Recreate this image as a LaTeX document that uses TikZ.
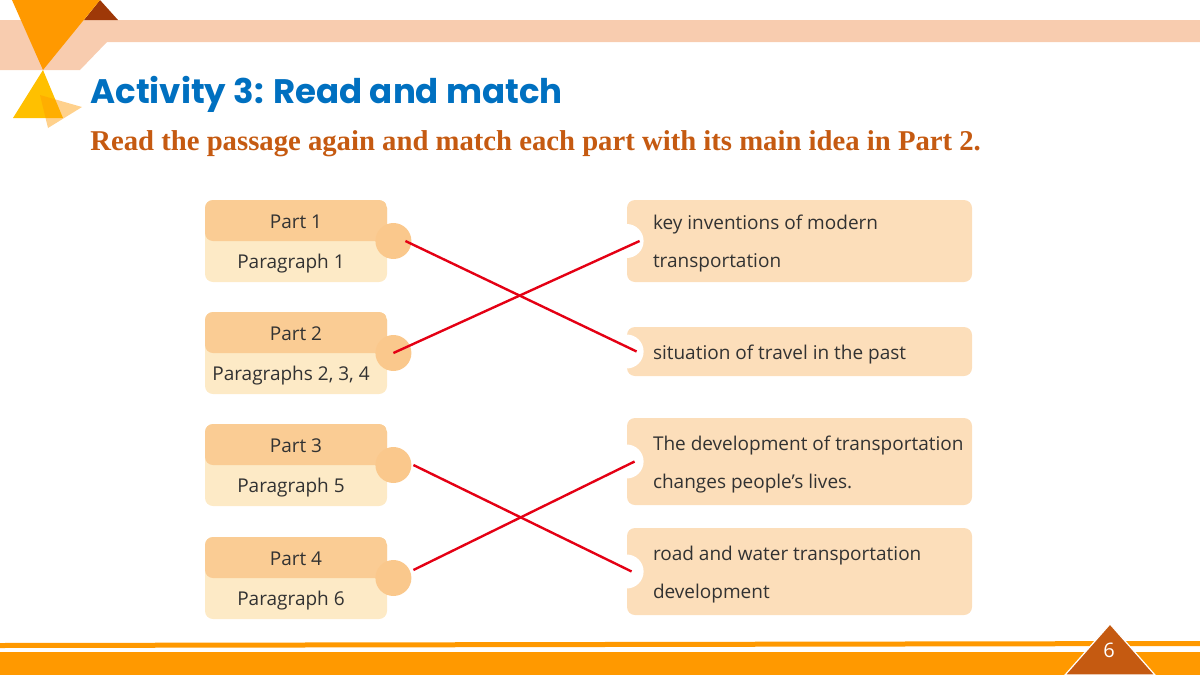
\documentclass[tikz,border=0pt]{standalone}
\usepackage{fontspec}
\setmainfont{Open Sans}
\newfontfamily\titlefont{Poppins}
\newfontfamily\taskfont{Liberation Serif}
\usetikzlibrary{positioning}
\definecolor{bandpeach}{RGB}{248,204,175}
\definecolor{deeporange}{RGB}{255,153,0}
\definecolor{rust}{RGB}{158,56,8}
\definecolor{goldyellow}{RGB}{255,192,0}
\definecolor{titleblue}{RGB}{0,112,192}
\definecolor{taskbrown}{RGB}{197,90,17}
\definecolor{parthead}{RGB}{250,204,148}
\definecolor{partbody}{RGB}{253,234,198}
\definecolor{partdot}{RGB}{250,200,140}
\definecolor{ideafill}{RGB}{252,222,186}
\definecolor{linkred}{RGB}{228,0,20}
\definecolor{inktext}{RGB}{50,50,50}
\tikzset{
  partbox/.style={rectangle, rounded corners=4pt, fill=partbody, minimum width=91pt,
                  minimum height=41pt, inner sep=0pt,
                  path picture={\fill[parthead] (path picture bounding box.north west)
                                rectangle (path picture bounding box.east);}},
  dotnode/.style={circle, fill=partdot, minimum size=18pt, inner sep=0pt},
  ideabox/.style={rectangle, rounded corners=4pt, fill=ideafill, minimum width=172.5pt,
                  inner sep=0pt},
  ideatxt/.style={anchor=west, inner sep=0pt, align=left, text=inktext,
                  font=\fontsize{9.5}{19}\selectfont},
  notch/.style={circle, fill=white, minimum size=17pt, inner sep=0pt},
  headtxt/.style={font=\fontsize{9.5}{11}\selectfont, text=inktext},
  paratxt/.style={font=\fontsize{9.5}{11}\selectfont, text=inktext},
  link/.style={draw=linkred, line width=1.2pt},
}

\begin{document}
\begin{tikzpicture}[x=0.5pt, y=-0.5pt]
\useasboundingbox (0,0) rectangle (1200,675);

% ===================== header ornaments ==================================
\fill[bandpeach] (0,20) -- (1200,20) -- (1200,42) -- (107,42) -- (80,70) -- (0,70) -- cycle;
\fill[rust] (100,0) -- (118,20) -- (84,20) -- cycle;
\fill[deeporange] (12,0) -- (100,0) -- (43,70) -- cycle;
\fill[goldyellow] (43,70) -- (63,118) -- (13,118) -- cycle;
\fill[deeporange, opacity=0.45] (40,95) -- (82,107) -- (48,128) -- cycle;

\node[anchor=base west, inner sep=0pt, text=titleblue, font=\titlefont\bfseries\fontsize{17}{20}\selectfont]
  (title) at (90,103) {Activity 3: Read and match};
\node[anchor=base west, inner sep=0pt, text=taskbrown, font=\taskfont\bfseries\fontsize{14.35}{16}\selectfont]
  (task) at (90,150) {Read the passage again and match each part with its main idea in Part 2.};

% ===================== the parts (left column) ===========================
\foreach \j/\yy/\t in {1/241/{Paragraph 1},2/353/{Paragraphs 2, 3, 4},3/465/{Paragraph 5},4/578/{Paragraph 6}}{
  \node[partbox] (p\j) at (296,\yy) {};
  \node[headtxt] (h\j) at (296,\yy-19) {Part \j};
  \node[paratxt] (g\j) at (291,\yy+23) {\t};
  \node[dotnode] (d\j) at ([xshift=3pt]p\j.east) {};
}

% ===================== the main ideas (right column) =====================
\foreach \k/\yy/\hh/\t in {A/241/41/{key inventions of modern\\transportation},
                           B/351.5/24.5/{situation of travel in the past},
                           C/461.5/43.5/{The development of transportation\\changes people’s lives.},
                           D/571.5/43.5/{road and water transportation\\development}}{
  \node[ideabox, minimum height=\hh pt] (i\k) at (799.5,\yy) {};
  \node[notch] (n\k) at (i\k.west) {};
  \node[ideatxt] (t\k) at ([xshift=13pt,yshift=-1.5pt]i\k.west) {\t};
}

% ===================== matching lines ====================================
\draw[link] ([xshift=6pt]d1.center) -- ([xshift=5pt]nB.center);
\draw[link] (d2.center) -- ([xshift=6.5pt]nA.center);
\draw[link] ([xshift=10pt]d3.center) -- ([xshift=2.5pt]nD.center);
\draw[link] ([xshift=10pt,yshift=4pt]d4.center) -- ([xshift=4pt]nC.center);

% ===================== footer ============================================
\fill[deeporange] (0,643) -- (1200,641) -- (1200,646) -- (0,648) -- cycle;
\fill[deeporange] (0,652) rectangle (1200,675);
\fill[taskbrown, draw=white, line width=0.6pt] (1065,675) -- (1110,624) -- (1155,675) -- cycle;
\node[text=white, font=\fontsize{10}{12}\selectfont] (page) at (1109,650) {6};

\end{tikzpicture}
\end{document}
